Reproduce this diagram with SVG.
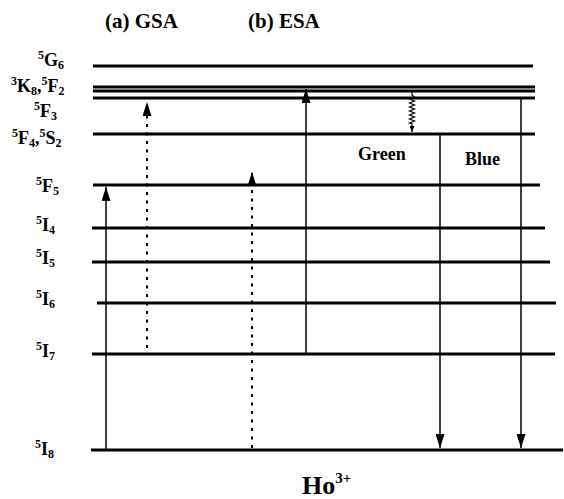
<svg xmlns="http://www.w3.org/2000/svg" width="564" height="499" viewBox="0 0 564 499">
<style>
text{font-family:"Liberation Serif","Times New Roman",serif;font-weight:bold;fill:#000}
.lbl{font-size:18px}
.s{font-size:12px}
.lvl{stroke:#000;stroke-width:2.8;fill:none}
.ar{stroke:#000;stroke-width:1.5;fill:none}
.dot{stroke:#000;stroke-width:2;fill:none;stroke-dasharray:3 5.5}
</style>
<defs>
<marker id="ah" viewBox="0 0 14 9" refX="14" refY="4.5" markerWidth="14" markerHeight="9" markerUnits="userSpaceOnUse" orient="auto"><path d="M0,0L14,4.5L0,9z" fill="#000"/></marker>
<marker id="ahs" viewBox="0 0 6 5" refX="6" refY="2.5" markerWidth="6" markerHeight="5" markerUnits="userSpaceOnUse" orient="auto"><path d="M0,0L6,2.5L0,5z" fill="#000"/></marker>
</defs>
<text x="105" y="28" style="font-size:21px">(a) GSA</text>
<text x="248" y="28" style="font-size:21px">(b) ESA</text>
<g id="levels">
<g id="G6"><line class="lvl" x1="93" y1="66" x2="533" y2="66"/><text class="lbl" x="38" y="66"><tspan class="s" dy="-7">5</tspan><tspan dy="7">G</tspan><tspan class="s" dy="3">6</tspan></text></g>
<g id="K8F2"><line class="lvl" x1="93" y1="87" x2="535" y2="87"/><line class="lvl" x1="93" y1="91" x2="535" y2="91"/><text class="lbl" x="11" y="92"><tspan class="s" dy="-7">3</tspan><tspan dy="7">K</tspan><tspan class="s" dy="3">8</tspan><tspan dy="-3">,</tspan><tspan class="s" dy="-7">5</tspan><tspan dy="7">F</tspan><tspan class="s" dy="3">2</tspan></text></g>
<g id="F3"><line class="lvl" x1="93" y1="98" x2="535" y2="98"/><text class="lbl" x="34" y="117"><tspan class="s" dy="-7">5</tspan><tspan dy="7">F</tspan><tspan class="s" dy="3">3</tspan></text></g>
<g id="F4S2"><line class="lvl" x1="93" y1="134" x2="535" y2="134"/><text class="lbl" x="12" y="144"><tspan class="s" dy="-7">5</tspan><tspan dy="7">F</tspan><tspan class="s" dy="3">4</tspan><tspan dy="-3">,</tspan><tspan class="s" dy="-7">5</tspan><tspan dy="7">S</tspan><tspan class="s" dy="3">2</tspan></text></g>
<g id="F5"><line class="lvl" x1="93" y1="185" x2="540" y2="185"/><text class="lbl" x="36" y="192"><tspan class="s" dy="-7">5</tspan><tspan dy="7">F</tspan><tspan class="s" dy="3">5</tspan></text></g>
<g id="I4"><line class="lvl" x1="92" y1="228" x2="545" y2="228"/><text class="lbl" x="36" y="231"><tspan class="s" dy="-7">5</tspan><tspan dy="7">I</tspan><tspan class="s" dy="3">4</tspan></text></g>
<g id="I5"><line class="lvl" x1="92" y1="262" x2="550" y2="262"/><text class="lbl" x="36" y="264"><tspan class="s" dy="-7">5</tspan><tspan dy="7">I</tspan><tspan class="s" dy="3">5</tspan></text></g>
<g id="I6"><line class="lvl" x1="97" y1="303" x2="556" y2="303"/><text class="lbl" x="36" y="305"><tspan class="s" dy="-7">5</tspan><tspan dy="7">I</tspan><tspan class="s" dy="3">6</tspan></text></g>
<g id="I7"><line class="lvl" x1="92" y1="354" x2="555" y2="354"/><text class="lbl" x="36" y="357"><tspan class="s" dy="-7">5</tspan><tspan dy="7">I</tspan><tspan class="s" dy="3">7</tspan></text></g>
<g id="I8"><line class="lvl" x1="91" y1="450" x2="563" y2="450" style="stroke-width:3"/><text class="lbl" x="35" y="455"><tspan class="s" dy="-7">5</tspan><tspan dy="7">I</tspan><tspan class="s" dy="3">8</tspan></text></g>
</g>
<g id="connectors">
<line class="ar" x1="106" y1="450" x2="106" y2="187" marker-end="url(#ah)"/>
<line class="dot" x1="147" y1="348" x2="147" y2="102" marker-end="url(#ah)"/>
<line class="dot" x1="252" y1="448" x2="252" y2="172" marker-end="url(#ah)"/>
<line class="ar" x1="306" y1="354" x2="306" y2="89" marker-end="url(#ah)"/>
<path class="ar" style="stroke-width:1.2" d="M412,92L412,95l2.5,2l-5,2l5,2l-5,2l5,2l-5,2l5,2l-5,2l5,2l-5,2l5,2l-5,2l5,2l-5,2l2.5,1L412,132" marker-end="url(#ahs)"/>
<line class="ar" x1="440" y1="134" x2="440" y2="448" marker-end="url(#ah)"/>
<line class="ar" x1="521" y1="98" x2="521" y2="448" marker-end="url(#ah)"/>
</g>
<text x="358" y="160" style="font-size:18px">Green</text>
<text x="465" y="165" style="font-size:18px">Blue</text>
<text x="302" y="494" style="font-size:26px">Ho<tspan style="font-size:15px" dy="-11">3+</tspan></text>
</svg>
